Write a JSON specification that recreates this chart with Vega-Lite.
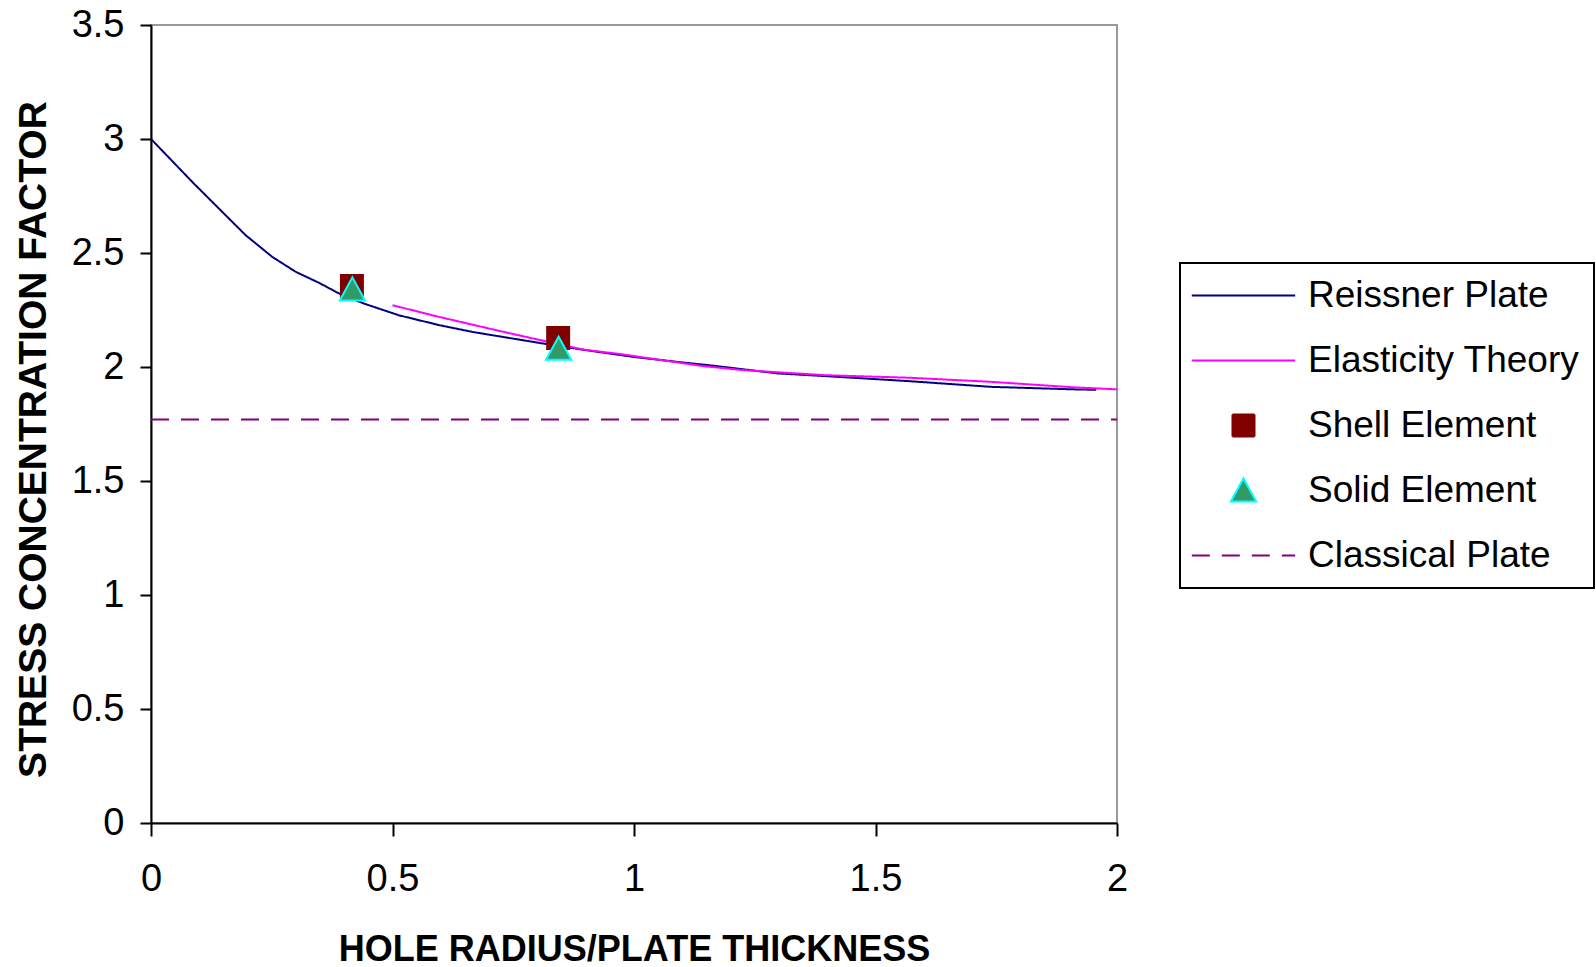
{
  "$schema": "https://vega.github.io/schema/vega-lite/v6.json",
  "width": 966,
  "height": 798,
  "autosize": {"type": "none"},
  "padding": {"left": 151, "top": 25, "right": 479, "bottom": 144},
  "background": "white",
  "config": {
    "view": {"stroke": "#999999", "strokeWidth": 2},
    "font": "Liberation Sans",
    "axis": {
      "grid": false,
      "domainColor": "black",
      "domainWidth": 2,
      "tickColor": "black",
      "tickWidth": 2,
      "labelFont": "Liberation Sans",
      "labelFontSize": 38,
      "labelColor": "black",
      "labelFlush": false,
      "format": "~g",
      "titleFont": "Liberation Sans",
      "titleFontWeight": "bold",
      "titleColor": "black"
    },
    "legend": {
      "orient": "none",
      "legendX": 1029,
      "legendY": 238,
      "strokeColor": "black",
      "strokeWidth": 2,
      "padding": 14,
      "cornerRadius": 0,
      "labelFont": "Liberation Sans",
      "labelFontSize": 37,
      "labelColor": "black",
      "labelLimit": 0,
      "symbolSize": 484,
      "symbolStrokeWidth": 2,
      "symbolOffset": 31,
      "labelOffset": 46,
      "rowPadding": 27
    }
  },
  "data": {
    "values": [
      {"series": "Reissner Plate", "x": 0, "y": 3.0},
      {"series": "Reissner Plate", "x": 0.089, "y": 2.804},
      {"series": "Reissner Plate", "x": 0.196, "y": 2.578},
      {"series": "Reissner Plate", "x": 0.251, "y": 2.483},
      {"series": "Reissner Plate", "x": 0.3, "y": 2.417},
      {"series": "Reissner Plate", "x": 0.348, "y": 2.369},
      {"series": "Reissner Plate", "x": 0.396, "y": 2.315},
      {"series": "Reissner Plate", "x": 0.444, "y": 2.276},
      {"series": "Reissner Plate", "x": 0.513, "y": 2.227},
      {"series": "Reissner Plate", "x": 0.596, "y": 2.184},
      {"series": "Reissner Plate", "x": 0.665, "y": 2.154},
      {"series": "Reissner Plate", "x": 0.734, "y": 2.13},
      {"series": "Reissner Plate", "x": 0.803, "y": 2.106},
      {"series": "Reissner Plate", "x": 0.9, "y": 2.074},
      {"series": "Reissner Plate", "x": 1.0, "y": 2.044},
      {"series": "Reissner Plate", "x": 1.1, "y": 2.02},
      {"series": "Reissner Plate", "x": 1.163, "y": 2.006},
      {"series": "Reissner Plate", "x": 1.297, "y": 1.972},
      {"series": "Reissner Plate", "x": 1.397, "y": 1.96},
      {"series": "Reissner Plate", "x": 1.569, "y": 1.938},
      {"series": "Reissner Plate", "x": 1.739, "y": 1.913},
      {"series": "Reissner Plate", "x": 1.909, "y": 1.902},
      {"series": "Reissner Plate", "x": 1.957, "y": 1.9},
      {"series": "Elasticity Theory", "x": 0.5, "y": 2.271},
      {"series": "Elasticity Theory", "x": 0.596, "y": 2.22},
      {"series": "Elasticity Theory", "x": 0.734, "y": 2.152},
      {"series": "Elasticity Theory", "x": 0.893, "y": 2.077},
      {"series": "Elasticity Theory", "x": 0.974, "y": 2.056},
      {"series": "Elasticity Theory", "x": 1.058, "y": 2.03},
      {"series": "Elasticity Theory", "x": 1.143, "y": 2.004},
      {"series": "Elasticity Theory", "x": 1.228, "y": 1.986},
      {"series": "Elasticity Theory", "x": 1.397, "y": 1.964},
      {"series": "Elasticity Theory", "x": 1.569, "y": 1.953},
      {"series": "Elasticity Theory", "x": 1.739, "y": 1.935},
      {"series": "Elasticity Theory", "x": 1.909, "y": 1.911},
      {"series": "Elasticity Theory", "x": 2.0, "y": 1.902},
      {"series": "Shell Element", "x": 0.416, "y": 2.355},
      {"series": "Shell Element", "x": 0.843, "y": 2.127},
      {"series": "Solid Element", "x": 0.417, "y": 2.34},
      {"series": "Solid Element", "x": 0.844, "y": 2.08},
      {"series": "Classical Plate", "x": 0, "y": 1.77},
      {"series": "Classical Plate", "x": 2, "y": 1.77}
    ]
  },
  "layer": [
    {
      "transform": [{"filter": {"field": "series", "oneOf": ["Reissner Plate", "Elasticity Theory", "Classical Plate"]}}],
      "mark": {"type": "line", "strokeWidth": 2},
      "encoding": {
        "x": {
          "field": "x", "type": "quantitative",
          "scale": {"domain": [0, 2], "nice": false},
          "axis": {
            "values": [0, 0.5, 1, 1.5, 2],
            "tickSize": 13,
            "labelPadding": 24,
            "title": "HOLE RADIUS/PLATE THICKNESS",
            "titleFontSize": 36,
            "titlePadding": 34
          }
        },
        "y": {
          "field": "y", "type": "quantitative",
          "scale": {"domain": [0, 3.5], "nice": false},
          "axis": {
            "values": [0, 0.5, 1, 1.5, 2, 2.5, 3, 3.5],
            "tickSize": 11,
            "labelPadding": 16,
            "title": "STRESS CONCENTRATION FACTOR",
            "titleFontSize": 39,
            "titlePadding": 18,
            "titleY": 414
          }
        },
        "stroke": {
          "field": "series", "type": "nominal",
          "scale": {
            "domain": ["Reissner Plate", "Elasticity Theory", "Shell Element", "Solid Element", "Classical Plate"],
            "range": ["#000080", "#FF00FF", "#800000", "#00FFFF", "#800080"]
          },
          "legend": {"title": null}
        },
        "strokeDash": {
          "field": "series", "type": "nominal",
          "scale": {
            "domain": ["Reissner Plate", "Elasticity Theory", "Shell Element", "Solid Element", "Classical Plate"],
            "range": [[1, 0], [1, 0], [1, 0], [1, 0], [18, 12]]
          },
          "legend": {"title": null}
        }
      }
    },
    {
      "transform": [{"filter": {"field": "series", "oneOf": ["Shell Element", "Solid Element"]}}],
      "mark": {"type": "point", "filled": true, "size": 484, "strokeWidth": 2, "opacity": 1},
      "encoding": {
        "x": {"field": "x", "type": "quantitative"},
        "y": {"field": "y", "type": "quantitative"},
        "shape": {
          "field": "series", "type": "nominal",
          "scale": {
            "domain": ["Reissner Plate", "Elasticity Theory", "Shell Element", "Solid Element", "Classical Plate"],
            "range": ["M-4.7,0H4.7", "M-4.7,0H4.7", "M-1,-1H1V1H-1Z", "M0,-1.1L1.15,1H-1.15Z", "M-4.7,0H4.7"]
          },
          "legend": {"title": null}
        },
        "fill": {
          "field": "series", "type": "nominal",
          "scale": {
            "domain": ["Reissner Plate", "Elasticity Theory", "Shell Element", "Solid Element", "Classical Plate"],
            "range": ["transparent", "transparent", "#800000", "#339966", "transparent"]
          },
          "legend": {"title": null}
        },
        "stroke": {"field": "series", "type": "nominal", "legend": {"title": null}}
      }
    }
  ]
}
